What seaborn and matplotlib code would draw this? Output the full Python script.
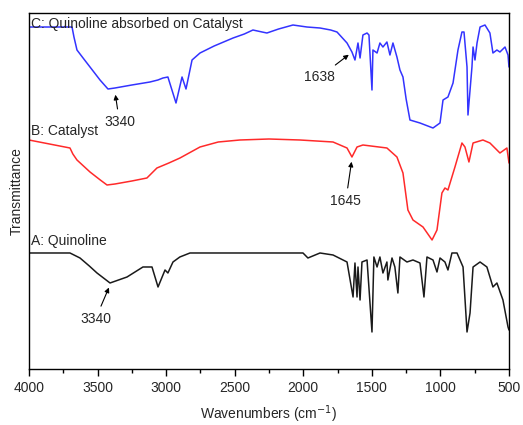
import numpy as np
import pandas as pd
import seaborn as sns
from matplotlib import pyplot as plt
from matplotlib.ticker import MultipleLocator

# C: quinoline absorbed on catalyst (blue)
wn_c = [4000, 3686, 3672, 3650, 3600, 3555, 3482, 3424, 3373, 3250, 3118, 3060,
        3023, 2987, 2928, 2884, 2855, 2811, 2753, 2650, 2512, 2430, 2367, 2300,
        2265, 2180, 2075, 1973, 1878, 1800, 1754, 1681, 1645,
        1623, 1601, 1586, 1565, 1535, 1521, 1499, 1492, 1462, 1441, 1419, 1390,
        1368, 1346, 1317, 1295, 1273, 1250, 1222, 1149, 1054, 1003, 981, 945, 908,
        872, 843, 828, 806, 799, 770, 762, 748, 733, 711, 675, 639, 617, 588,
        566, 529, 507, 500]
t_c = [342, 342, 332, 319, 310, 302, 289, 280, 281, 284, 287, 289,
       291, 292, 266, 292, 280, 309, 316, 323, 331, 335, 339, 337,
       336, 340, 344, 342, 341, 339, 337, 326, 317,
       309, 326, 311, 334, 336, 334, 279, 319, 316, 326, 322, 327,
       314, 326, 312, 299, 292, 270, 249, 246, 241, 246, 269, 272, 286,
       319, 337, 337, 302, 254, 302, 322, 309, 326, 342, 344, 336, 316, 319,
       317, 322, 314, 302]

# B: catalyst (red)
wn_b = [4000, 3701, 3680, 3650, 3555, 3480, 3431, 3373, 3250, 3140, 3067, 2980,
        2899, 2753, 2620, 2462, 2250, 2024, 1783, 1681, 1645, 1608, 1565, 1390,
        1317, 1273, 1237, 1200, 1127, 1061, 1025, 989, 967, 945, 894, 843, 821,
        792, 762, 690, 639, 566, 515, 500]
t_b = [229, 221, 215, 209, 197, 189, 184, 185, 188, 191, 201, 206,
       211, 222, 227, 229, 230, 229, 227, 221, 212, 222, 224, 221,
       212, 196, 159, 149, 142, 129, 139, 176, 181, 179, 202, 226, 222,
       207, 226, 229, 226, 216, 221, 206]

# A: quinoline (black)
wn_a = [4000, 3701, 3628, 3560, 3504, 3409, 3285, 3169, 3103, 3059, 3008, 2987, 2950,
        2900, 2826, 2002, 1966, 1878, 1783, 1681, 1637, 1623, 1608, 1601, 1586, 1572,
        1535, 1499, 1485, 1462, 1441, 1419, 1390, 1383, 1353, 1332, 1310, 1295,
        1244, 1200, 1149, 1120, 1098, 1054, 1025, 1003, 967, 945, 916, 879,
        835, 806, 784, 762, 711, 661, 617, 588, 544, 507, 500]
t_a = [116, 116, 111, 103, 96, 86, 92, 102, 102, 82, 99, 96, 107,
       112, 116, 116, 111, 116, 114, 107, 72, 106, 72, 102, 69, 107,
       109, 37, 112, 102, 112, 96, 107, 89, 111, 102, 76, 112,
       107, 109, 106, 72, 112, 109, 97, 111, 107, 99, 116, 116,
       102, 37, 56, 102, 107, 102, 82, 86, 69, 42, 39]

labels = ["C: Quinoline absorbed on Catalyst", "B: Catalyst", "A: Quinoline"]

sns.set_style("white")
plt.rcParams["font.family"] = ["Liberation Sans", "DejaVu Sans"]

fig = plt.figure(figsize=(5.23, 4.25), dpi=100)
ax = fig.add_axes([0.0554, 0.1318, 0.9178, 0.8376])

for wn, t, color in [(wn_c, t_c, "#3333ff"), (wn_b, t_b, "#ff2a2a"), (wn_a, t_a, "#1a1a1a")]:
    df = pd.DataFrame({"wn": wn, "t": t})
    sns.lineplot(data=df, x="wn", y="t", color=color, linewidth=1.1,
                 estimator=None, sort=False, ax=ax)

ax.set_xlim(4000, 500)
ax.set_ylim(0, 356)
ax.xaxis.set_major_locator(MultipleLocator(500))
ax.xaxis.set_minor_locator(MultipleLocator(250))
ax.tick_params(axis="x", which="major", direction="out", length=5, width=1,
               labelsize=10, bottom=True, color="black")
ax.tick_params(axis="x", which="minor", direction="out", length=3, width=1,
               bottom=True, color="black")
ax.set_yticks([])
for s in ax.spines.values():
    s.set_color("black")
    s.set_linewidth(1.0)

ax.set_xlabel("Wavenumbers (cm$^{-1}$)", fontsize=10, labelpad=6)
ax.set_ylabel("Transmittance", fontsize=10, labelpad=4)

ax.text(3985, 345, labels[0], fontsize=10, va="center", ha="left")
ax.text(3985, 238, labels[1], fontsize=10, va="center", ha="left")
ax.text(3985, 128, labels[2], fontsize=10, va="center", ha="left")

arrow = dict(arrowstyle="-|>", color="black", lw=0.8, mutation_scale=7)
ax.annotate("3340", xy=(3373, 277), xytext=(3340, 247), fontsize=10,
            ha="center", va="center", arrowprops=arrow)
ax.annotate("1638", xy=(1652, 316), xytext=(1880, 292), fontsize=10,
            ha="center", va="center", arrowprops=arrow)
ax.annotate("1645", xy=(1645, 210), xytext=(1690, 168), fontsize=10,
            ha="center", va="center", arrowprops=arrow)
ax.annotate("3340", xy=(3409, 84), xytext=(3515, 50), fontsize=10,
            ha="center", va="center", arrowprops=arrow)

plt.savefig("out.png", dpi=100)
plt.close()
